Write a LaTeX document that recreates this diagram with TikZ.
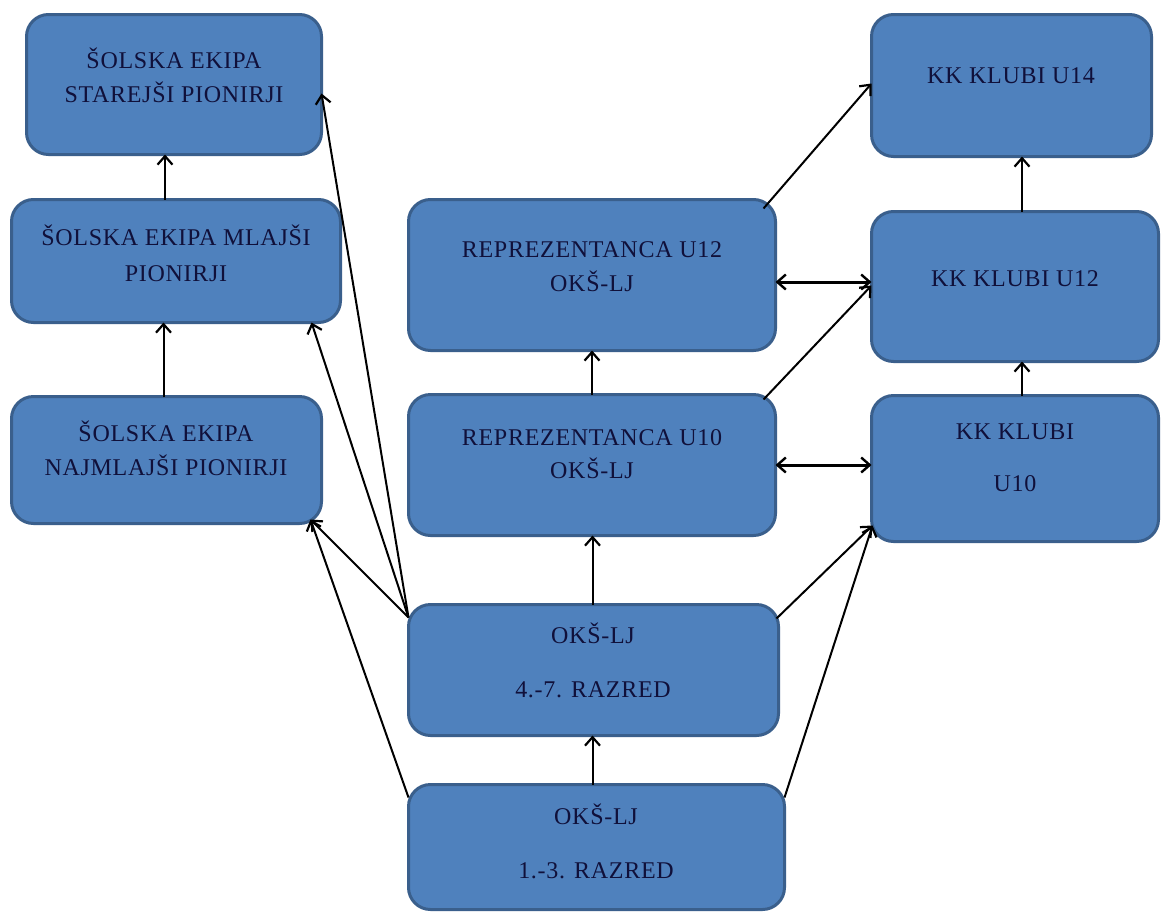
\documentclass[tikz,border=0pt]{standalone}
\usepackage{fontspec}
\setmainfont{Liberation Serif}[LetterSpace=3]
\usetikzlibrary{arrows.meta,calc}
\definecolor{boxfill}{HTML}{4F81BD}
\definecolor{boxline}{HTML}{3A5F8C}
\definecolor{txt}{HTML}{10103A}
\begin{document}
\begin{tikzpicture}[x=1pt,y=-1pt,
  box/.style={draw=boxline, line width=3pt, fill=boxfill, rounded corners=22pt,
              anchor=north west, inner sep=0pt, outer sep=0pt},
  lbl/.style={text=txt, font=\fontsize{24}{28}\selectfont, inner sep=0pt, anchor=base},
  arr/.style={line width=2pt, -{Straight Barb[length=8.5pt,width=15pt,line width=2.2pt]}},
  darr/.style={line width=3pt, {Straight Barb[length=8.5pt,width=15pt,line width=2.4pt]}-{Straight Barb[length=8.5pt,width=15pt,line width=2.4pt]}}]
\useasboundingbox[fill=white] (0,0) rectangle (1161,913);

% boxes
\node[box, minimum width=295pt, minimum height=140pt] (A) at (26.5,14.5) {};
\node[box, minimum width=329pt, minimum height=123pt] (B) at (11.5,199.5) {};
\node[box, minimum width=310pt, minimum height=127pt] (C) at (11.5,396.5) {};
\node[box, minimum width=367pt, minimum height=151pt] (D) at (408.5,199.5) {};
\node[box, minimum width=367pt, minimum height=141pt] (E) at (408.5,394.5) {};
\node[box, minimum width=370pt, minimum height=131pt] (F) at (408.5,604.5) {};
\node[box, minimum width=376pt, minimum height=125pt] (G) at (408.5,784.5) {};
\node[box, minimum width=280pt, minimum height=142pt] (H) at (871.5,14.5) {};
\node[box, minimum width=287pt, minimum height=150pt] (I) at (871.5,211.5) {};
\node[box, minimum width=287pt, minimum height=146pt] (J) at (871.5,395.5) {};

% texts
\node[lbl] (a1) at (174,68) {ŠOLSKA EKIPA};
\node[lbl] (a2) at (174,102) {STAREJŠI PIONIRJI};
\node[lbl] (b1) at (176,245) {ŠOLSKA EKIPA MLAJŠI};
\node[lbl] (b2) at (176,281) {PIONIRJI};
\node[lbl] (c1) at (166,441) {ŠOLSKA EKIPA};
\node[lbl] (c2) at (166,475) {NAJMLAJŠI PIONIRJI};
\node[lbl] (d1) at (592,257) {REPREZENTANCA U12};
\node[lbl] (d2) at (592,291) {OKŠ-LJ};
\node[lbl] (e1) at (592,445) {REPREZENTANCA U10};
\node[lbl] (e2) at (592,478) {OKŠ-LJ};
\node[lbl] (f1) at (593,643) {OKŠ-LJ};
\node[lbl] (f2) at (593,697) {4.-7. RAZRED};
\node[lbl] (g1) at (596,824) {OKŠ-LJ};
\node[lbl] (g2) at (596,878) {1.-3. RAZRED};
\node[lbl] (h1) at (1011,83) {KK KLUBI U14};
\node[lbl] (i1) at (1015,286) {KK KLUBI U12};
\node[lbl] (j1) at (1015,439) {KK KLUBI};
\node[lbl] (j2) at (1015,491) {U10};

% connector end points on box borders
\coordinate (Fl) at ([yshift=-13pt]F.north west);
\coordinate (Gl) at ([yshift=-13pt]G.north west);
\coordinate (Fr) at ([shift={(-2pt,-14pt)}]F.north east);
\coordinate (Gr) at ([yshift=-13pt]G.north east);
\coordinate (Dr) at ([shift={(-12pt,-9pt)}]D.north east);
\coordinate (Er) at ([shift={(-12pt,-5pt)}]E.north east);
\coordinate (Ctip) at ([shift={(-11pt,4pt)}]C.south east);
\coordinate (Jtip) at ([shift={(1pt,16pt)}]J.south west);

% vertical arrows
\draw[arr] ([xshift=-11pt]B.north) -- ([xshift=-11pt]B.north |- A.south);
\draw[arr] ([xshift=-3pt]C.north) -- ([xshift=-3pt]C.north |- B.south);
\draw[arr] ([xshift=-4pt]G.north) -- ([xshift=-4pt]G.north |- F.south);
\draw[arr] ([xshift=-1pt]F.north) -- ([xshift=-1pt]F.north |- E.south);
\draw[arr] (E.north) -- (E.north |- D.south);
\draw[arr] ([xshift=7pt]J.north) -- ([xshift=7pt]J.north |- I.south);
\draw[arr] ([xshift=7pt]I.north) -- ([xshift=7pt]I.north |- H.south);

% left fan
\draw[arr] (Fl) -- ([yshift=-9pt]A.east);
\draw[arr] (Fl) -- ([xshift=-29pt]B.south east);
\draw[arr] (Fl) -- (Ctip);
\draw[arr] (Gl) -- (Ctip);

% right fan
\draw[arr] (Dr) -- ([yshift=2pt]H.west);
\draw[arr] (Er) -- ([yshift=1pt]I.west);
\draw[arr] (Fr) -- (Jtip);
\draw[arr] (Gr) -- (Jtip);

% double arrows
\draw[darr] ([yshift=-7pt]D.east) -- ([yshift=-7pt]D.east -| I.west);
\draw[darr] (E.east) -- (E.east -| J.west);
\end{tikzpicture}
\end{document}
